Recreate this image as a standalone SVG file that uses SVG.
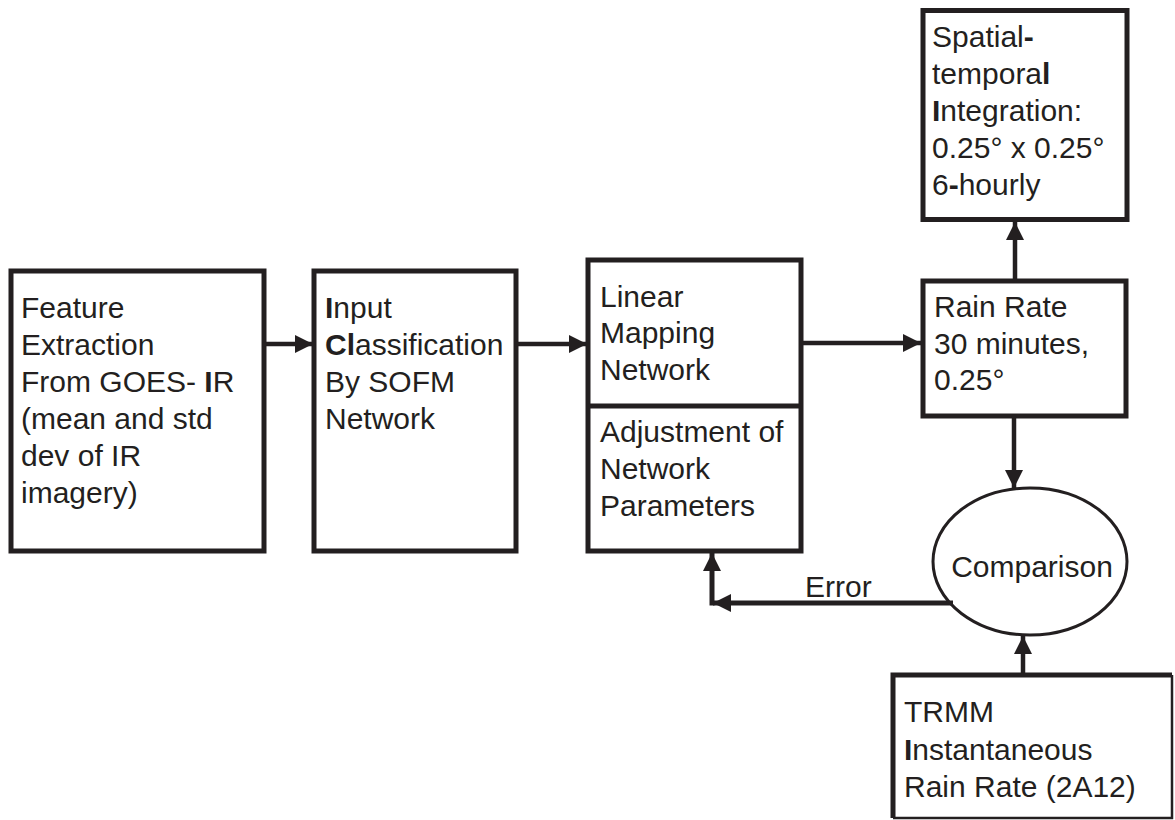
<svg xmlns="http://www.w3.org/2000/svg" width="1175" height="820" viewBox="0 0 1175 820">
<style>
.box{fill:#fff;stroke:#231f20;stroke-width:5}
.t{font-family:"Liberation Sans",Arial,Helvetica,sans-serif;font-size:30px;fill:#231f20}
.b{font-weight:bold}
.c{fill:none;stroke:#231f20;stroke-width:4.5}
</style>
<defs>
<marker id="ah" markerUnits="userSpaceOnUse" markerWidth="20" markerHeight="20" refX="18" refY="9" orient="auto">
<path d="M0,0 L18,9 L0,18 z" fill="#231f20"/>
</marker>
</defs>
<rect width="1175" height="820" fill="#fff"/>

<g id="feature">
<rect class="box" x="11" y="271" width="253" height="280"/>
<text class="t"><tspan x="21" y="318">Feature</tspan><tspan x="21" y="355">Extraction</tspan><tspan x="21" y="392">From GOES- <tspan class="b">I</tspan>R</tspan><tspan x="21" y="429">(mean and std</tspan><tspan x="21" y="466">dev of IR</tspan><tspan x="21" y="503">imagery)</tspan></text>
</g>

<g id="input">
<rect class="box" x="314" y="271" width="202" height="280"/>
<text class="t"><tspan x="325" y="318"><tspan class="b">I</tspan>nput</tspan><tspan x="325" y="355"><tspan class="b">Cl</tspan>assification</tspan><tspan x="325" y="392">By SOFM</tspan><tspan x="325" y="429">Network</tspan></text>
</g>

<g id="linear">
<rect class="box" x="588" y="260" width="213" height="291"/>
<line x1="588" y1="406" x2="801" y2="406" stroke="#231f20" stroke-width="5"/>
<text class="t"><tspan x="600" y="307">Linear</tspan><tspan x="600" y="343">Mapping</tspan><tspan x="600" y="380">Network</tspan></text>
<text class="t"><tspan x="600" y="442">Adjustment of</tspan><tspan x="600" y="479">Network</tspan><tspan x="600" y="516">Parameters</tspan></text>
</g>

<g id="rainrate">
<rect class="box" x="923" y="281" width="203" height="135"/>
<text class="t"><tspan x="934" y="317">Rain Rate</tspan><tspan x="934" y="354">30 minutes,</tspan><tspan x="934" y="390">0.25°</tspan></text>
</g>

<g id="spatial">
<rect class="box" x="923" y="10.5" width="204" height="209"/>
<text class="t"><tspan x="932" y="47">Spatial<tspan class="b">-</tspan></tspan><tspan x="932" y="84">tempora<tspan class="b">l</tspan></tspan><tspan x="932" y="121"><tspan class="b">I</tspan>ntegration:</tspan><tspan x="932" y="158">0.25° x 0.25°</tspan><tspan x="932" y="195">6<tspan class="b">-</tspan>hourly</tspan></text>
</g>

<g id="comparison">
<ellipse cx="1030" cy="561.5" rx="97" ry="73.5" fill="#fff" stroke="#231f20" stroke-width="3"/>
<text class="t" x="1032" y="577" text-anchor="middle">Comparison</text>
</g>

<g id="trmm">
<path d="M893,818 V675 H1172" fill="none" stroke="#231f20" stroke-width="5"/>
<path d="M1172,675 V818 H893" fill="none" stroke="#231f20" stroke-width="2.5"/>
<text class="t"><tspan x="904" y="722">TRMM</tspan><tspan x="904" y="760"><tspan class="b">I</tspan>nstantaneous</tspan><tspan x="904" y="797">Rain Rate (2A12)</tspan></text>
</g>

<g id="connectors">
<line class="c" x1="264" y1="344" x2="313" y2="344" marker-end="url(#ah)"/>
<line class="c" x1="516" y1="344" x2="587" y2="344" marker-end="url(#ah)"/>
<line class="c" x1="801" y1="343" x2="921" y2="343" marker-end="url(#ah)"/>
<line class="c" x1="1015" y1="281" x2="1015" y2="222" marker-end="url(#ah)"/>
<line class="c" x1="1014" y1="416" x2="1014" y2="488" marker-end="url(#ah)"/>
<line class="c" x1="1023" y1="675" x2="1023" y2="636" marker-end="url(#ah)"/>
<line x1="953" y1="603" x2="713" y2="603" stroke="#231f20" stroke-width="5" marker-end="url(#ah)"/>
<line x1="712" y1="605.5" x2="712" y2="553" stroke="#231f20" stroke-width="5" marker-end="url(#ah)"/>
<text class="t" x="805" y="597">Error</text>
</g>
</svg>
